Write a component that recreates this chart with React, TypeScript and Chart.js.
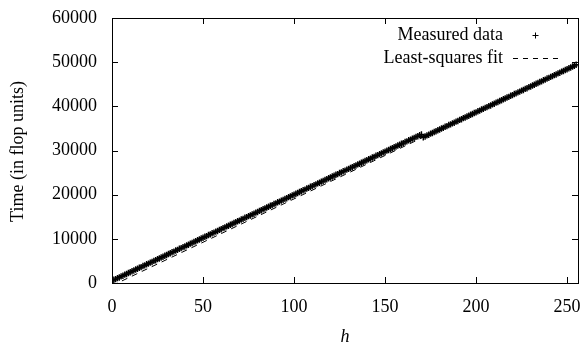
import React, { useEffect, useRef } from "react";
import { Chart, registerables } from "chart.js";

Chart.register(...registerables);

// Measured time for h = 0 .. 255 (one value per h)
const measured: number[] = [
  480, 720, 870, 1110, 1260, 1500, 1650, 1890, 2040, 2280, 2430, 2670, 2820, 3060, 3210, 3450,
  3600, 3840, 3990, 4230, 4380, 4620, 4770, 5010, 5160, 5400, 5550, 5790, 5940, 6180, 6330, 6570,
  6720, 6960, 7110, 7350, 7500, 7740, 7890, 8130, 8280, 8520, 8670, 8910, 9060, 9300, 9450, 9690,
  9840, 10080, 10230, 10470, 10620, 10860, 11010, 11250, 11400, 11640, 11790, 12030, 12180, 12420, 12570, 12810,
  12960, 13200, 13350, 13590, 13740, 13980, 14130, 14370, 14520, 14760, 14910, 15150, 15300, 15540, 15690, 15930,
  16080, 16320, 16470, 16710, 16860, 17100, 17250, 17490, 17640, 17880, 18030, 18270, 18420, 18660, 18810, 19050,
  19200, 19440, 19590, 19830, 19980, 20220, 20370, 20610, 20760, 21000, 21150, 21390, 21540, 21780, 21930, 22170,
  22320, 22560, 22710, 22950, 23100, 23340, 23490, 23730, 23880, 24120, 24270, 24510, 24660, 24900, 25050, 25290,
  25440, 25680, 25830, 26070, 26220, 26460, 26610, 26850, 27000, 27240, 27390, 27630, 27780, 28020, 28170, 28410,
  28560, 28800, 28950, 29190, 29340, 29580, 29730, 29970, 30120, 30360, 30510, 30750, 30900, 31140, 31290, 31530,
  31680, 31920, 32070, 32310, 32460, 32700, 32850, 33090, 33240, 33480, 33630, 33000, 33180, 33420, 33570, 33810,
  33960, 34200, 34350, 34590, 34740, 34980, 35130, 35370, 35520, 35760, 35910, 36150, 36300, 36540, 36690, 36930,
  37080, 37320, 37470, 37710, 37860, 38100, 38250, 38490, 38640, 38880, 39030, 39270, 39420, 39660, 39810, 40050,
  40200, 40440, 40590, 40830, 40980, 41220, 41370, 41610, 41760, 42000, 42150, 42390, 42540, 42780, 42930, 43170,
  43320, 43560, 43710, 43950, 44100, 44340, 44490, 44730, 44880, 45120, 45270, 45510, 45660, 45900, 46050, 46290,
  46440, 46680, 46830, 47070, 47220, 47460, 47610, 47850, 48000, 48240, 48390, 48630, 48780, 49020, 49170, 49410,
];

// Least-squares fit line endpoints
const fitH: number[] = [0, 256];
const fitT: number[] = [-600, 49700];

const xTicks: number[] = [0, 50, 100, 150, 200, 250];
const yTicks: number[] = [0, 10000, 20000, 30000, 40000, 50000, 60000];
const xRange: number[] = [0, 256];
const yRange: number[] = [0, 60000];

const legendLabels: string[] = ["Measured data", "Least-squares fit"];
const xTitle = "h";
const yTitle = "Time (in flop units)";

const FONT = "'Liberation Serif', 'DejaVu Serif', serif";

const framePlugin = {
  id: "frame",
  afterDraw(chart: any) {
    const { ctx, chartArea } = chart;
    const { left, right, top, bottom } = chartArea;
    const xs = chart.scales.x;
    const ys = chart.scales.y;
    ctx.save();
    ctx.strokeStyle = "#000";
    ctx.lineWidth = 1;
    ctx.setLineDash([]);
    ctx.strokeRect(Math.round(left) + 0.5, Math.round(top) + 0.5, Math.round(right - left), Math.round(bottom - top));
    const tl = 6;
    ctx.beginPath();
    xTicks.forEach((v) => {
      const px = Math.round(xs.getPixelForValue(v)) + 0.5;
      ctx.moveTo(px, bottom);
      ctx.lineTo(px, bottom - tl);
      ctx.moveTo(px, top);
      ctx.lineTo(px, top + tl);
    });
    yTicks.forEach((v) => {
      const py = Math.round(ys.getPixelForValue(v)) + 0.5;
      ctx.moveTo(left, py);
      ctx.lineTo(left + tl, py);
      ctx.moveTo(right, py);
      ctx.lineTo(right - tl, py);
    });
    ctx.stroke();

    // axis titles
    ctx.fillStyle = "#000";
    ctx.font = `18px ${FONT}`;
    ctx.textAlign = "center";
    ctx.textBaseline = "middle";
    ctx.save();
    ctx.translate(18, (top + bottom) / 2 + 1);
    ctx.rotate(-Math.PI / 2);
    ctx.fillText(yTitle, 0, 0);
    ctx.restore();
    ctx.font = `italic 18px ${FONT}`;
    ctx.fillText(xTitle, (left + right) / 2, 337);

    // legend
    ctx.font = `18px ${FONT}`;
    ctx.textAlign = "right";
    const textRight = 503;
    const rows = [35, 58];
    ctx.fillText(legendLabels[0], textRight, rows[0]);
    ctx.fillText(legendLabels[1], textRight, rows[1]);
    // cross symbol
    ctx.beginPath();
    const cx = 535.5;
    const cy = rows[0] + 0.5;
    ctx.moveTo(cx - 3, cy);
    ctx.lineTo(cx + 3, cy);
    ctx.moveTo(cx, cy - 3);
    ctx.lineTo(cx, cy + 3);
    ctx.stroke();
    // dashed sample
    ctx.beginPath();
    ctx.setLineDash([5, 5]);
    ctx.moveTo(513, rows[1] + 0.5);
    ctx.lineTo(558, rows[1] + 0.5);
    ctx.stroke();
    ctx.restore();
  },
};

export default function App() {
  const ref = useRef<HTMLCanvasElement | null>(null);
  useEffect(() => {
    if (!ref.current) return;
    const chart = new Chart(ref.current, {
      type: "scatter",
      data: {
        datasets: [
          {
            label: legendLabels[0],
            data: measured.map((t, h) => ({ x: h, y: t })),
            pointStyle: "cross",
            pointRadius: 3.2,
            pointBorderWidth: 1.4,
            borderColor: "#000",
            backgroundColor: "#000",
            showLine: false,
            clip: 0,
          } as any,
          {
            label: legendLabels[1],
            data: fitH.map((h, i) => ({ x: h, y: fitT[i] })),
            showLine: true,
            pointRadius: 0,
            borderColor: "#000",
            borderWidth: 1,
            borderDash: [6, 5],
            clip: 0,
          } as any,
        ],
      },
      options: {
        responsive: false,
        animation: false,
        devicePixelRatio: 1,
        layout: { padding: { top: 18, right: 8, left: 0, bottom: 0 } },
        plugins: { legend: { display: false }, tooltip: { enabled: false } },
        scales: {
          x: {
            type: "linear",
            min: xRange[0],
            max: xRange[1],
            grid: { display: false },
            border: { display: false },
            afterBuildTicks: (s: any) => {
              s.ticks = xTicks.map((v) => ({ value: v }));
            },
            afterFit: (s: any) => {
              s.height = 64;
            },
            ticks: {
              color: "#000",
              font: { family: FONT, size: 18 },
              padding: 5,
              maxRotation: 0,
              autoSkip: false,
              callback: (v: any) => String(v),
            },
          },
          y: {
            type: "linear",
            min: yRange[0],
            max: yRange[1],
            grid: { display: false },
            border: { display: false },
            afterBuildTicks: (s: any) => {
              s.ticks = yTicks.map((v) => ({ value: v }));
            },
            afterFit: (s: any) => {
              s.width = 112;
            },
            ticks: {
              color: "#000",
              font: { family: FONT, size: 18 },
              padding: 7,
              autoSkip: false,
              callback: (v: any) => String(v),
            },
          },
        },
      } as any,
      plugins: [framePlugin],
    });
    return () => chart.destroy();
  }, []);
  return (
    <div style={{ position: "absolute", left: 0, top: 0, width: 586, height: 347, background: "#fff" }}>
      <canvas ref={ref} width={586} height={347} style={{ width: 586, height: 347, display: "block" }} />
    </div>
  );
}
